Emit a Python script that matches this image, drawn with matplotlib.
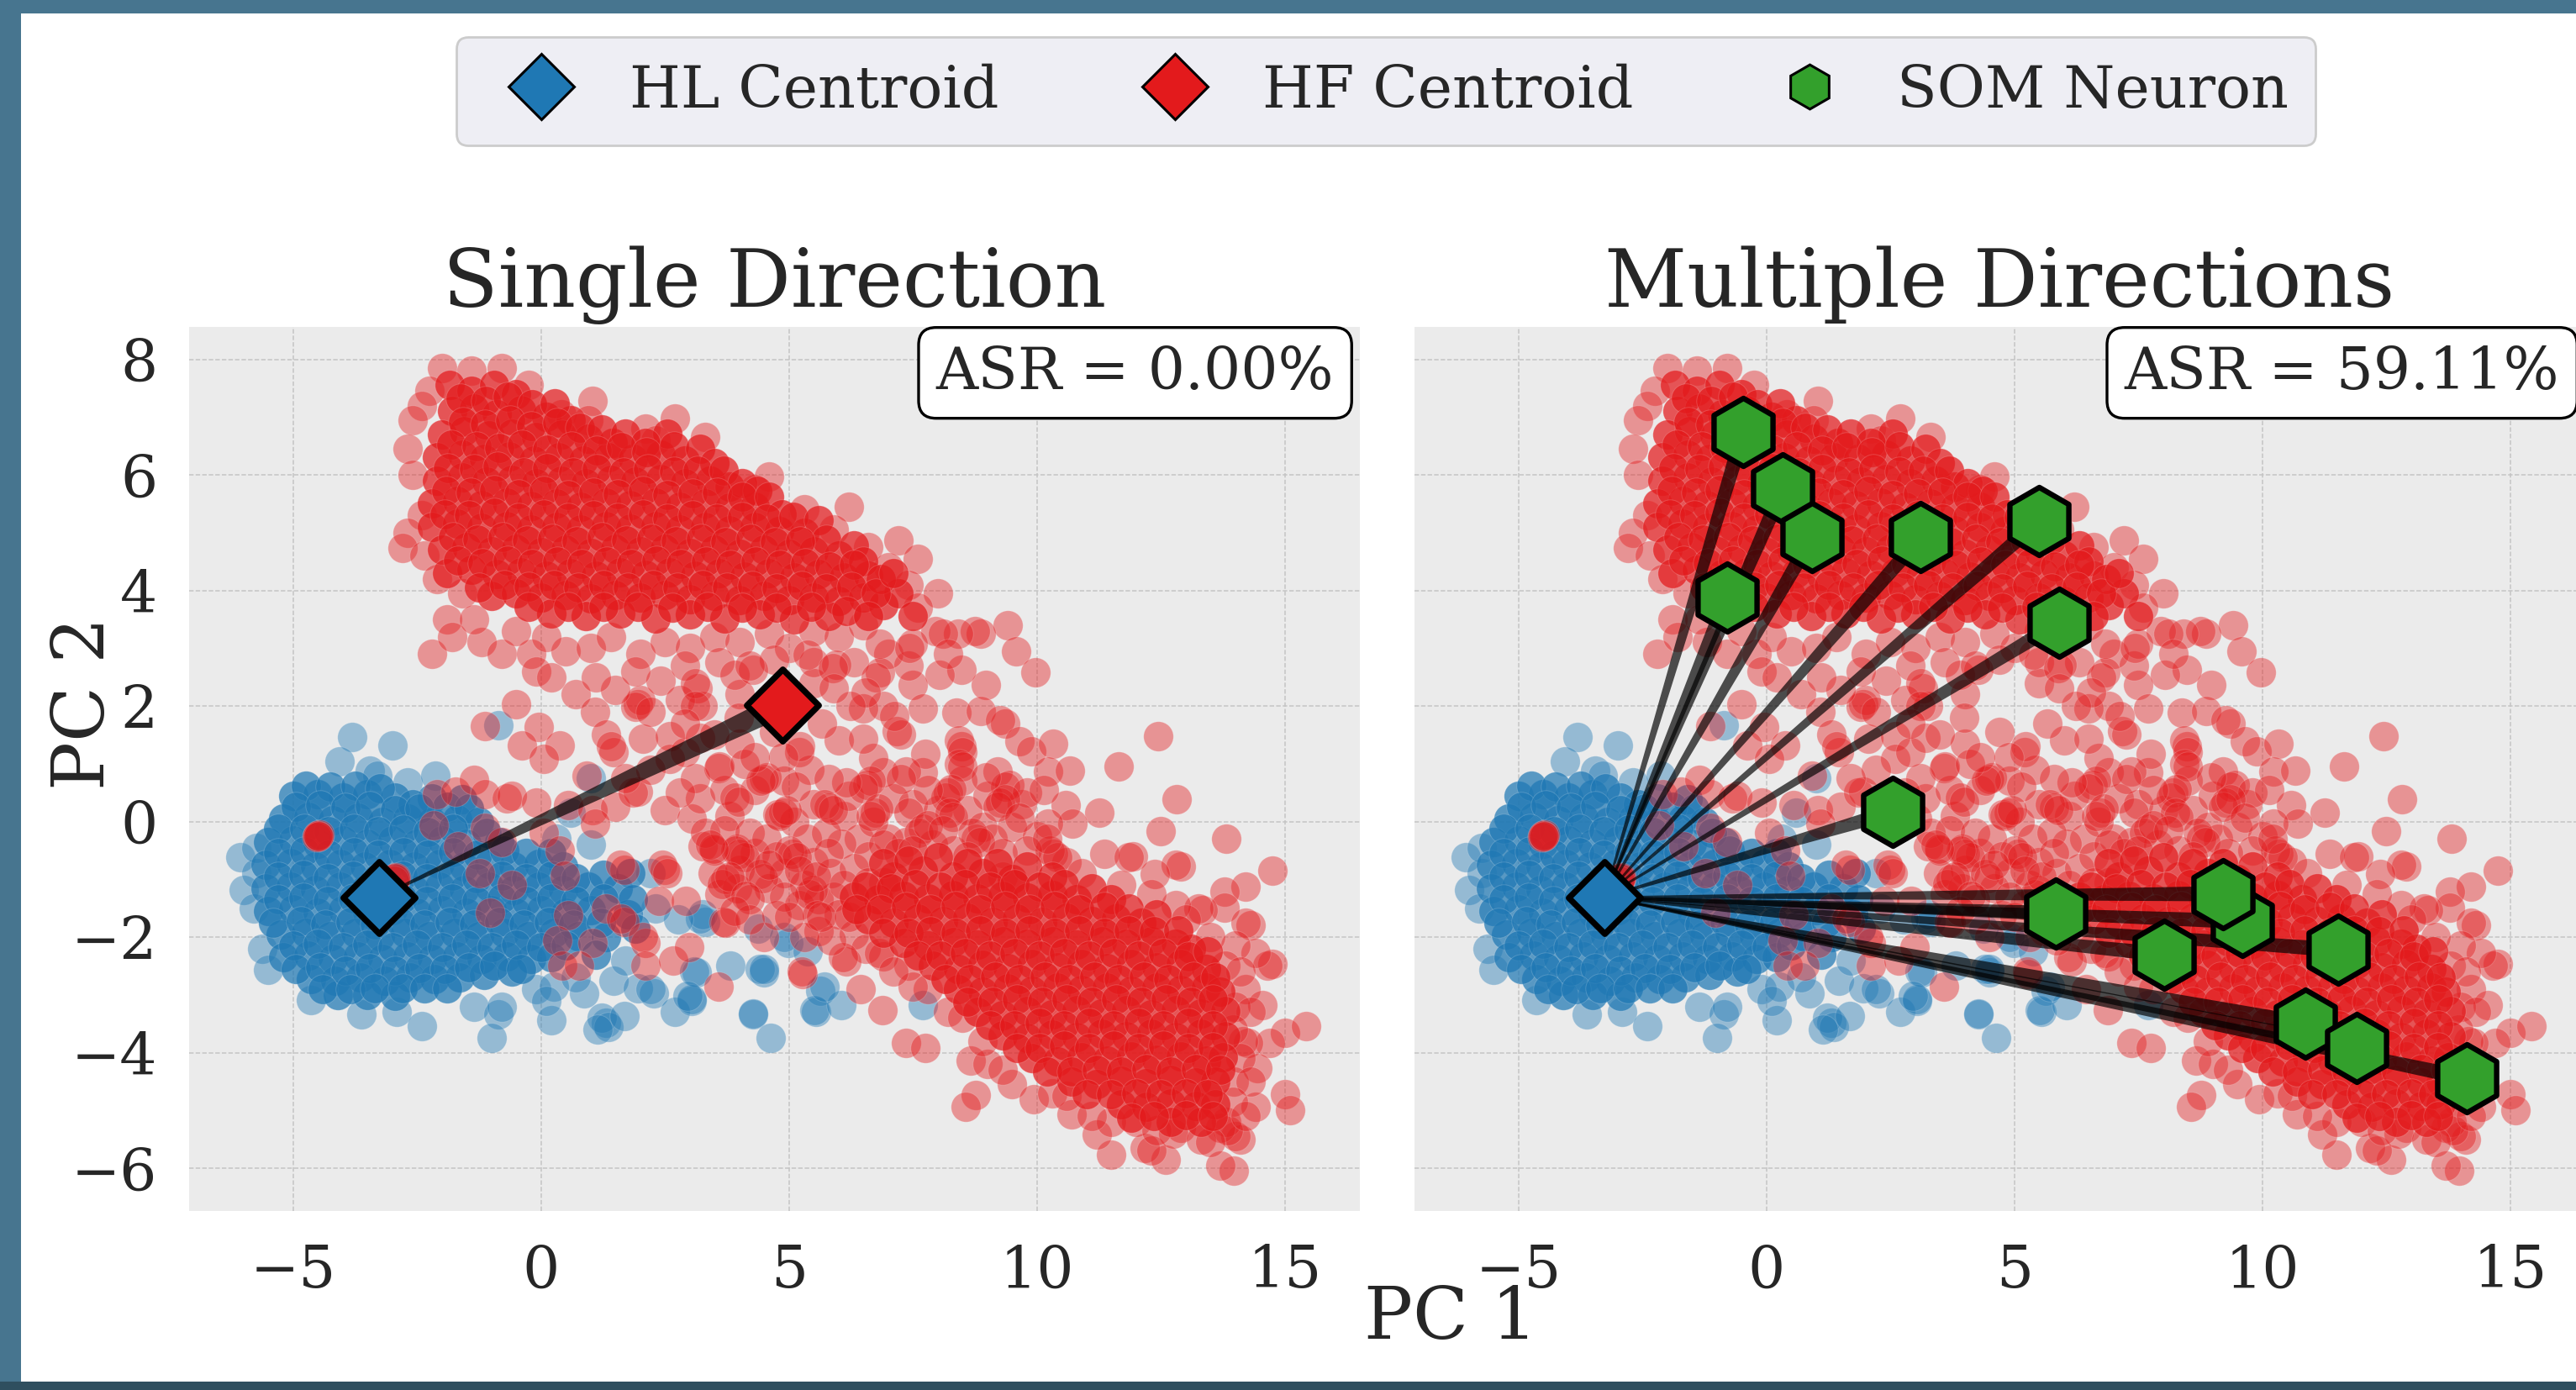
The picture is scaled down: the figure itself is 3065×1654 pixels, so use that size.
import matplotlib
matplotlib.use("Agg")
import matplotlib.pyplot as plt
import numpy as np
from matplotlib.lines import Line2D
from matplotlib.patches import Polygon, Rectangle
from matplotlib.transforms import IdentityTransform

W, H, DPI = 3065, 1654, 100
plt.rcParams['font.family'] = ['DejaVu Serif']

hl_centroid = (-3.27, -1.31)
hf_centroid = (4.86, 2.02)
som_x = [-0.47, 0.33, 0.92, 3.11, 5.5, 5.9, -0.8, 2.55, 5.83, 9.6, 9.2, 11.53, 8.02, 10.87, 11.9, 14.12]
som_y = [6.74, 5.77, 4.92, 4.92, 5.2, 3.44, 3.87, 0.17, -1.59, -1.73, -1.25, -2.22, -2.3, -3.5, -3.92, -4.44]

hf_core_upper = [
 (-1.85,7.55),(-1.4,7.45),(-0.95,7.55),(-0.5,7.4),
 (-1.8,7.1),(-1.35,7.15),(-0.9,7.05),(-0.4,7.12),(0.1,7.0),(0.6,6.95),
 (-2.0,6.7),(-1.55,6.75),(-1.05,6.68),(-0.6,6.72),(-0.1,6.65),(0.4,6.7),(0.95,6.62),(1.45,6.55),
 (-2.1,6.3),(-1.6,6.35),(-1.15,6.28),(-0.65,6.32),(-0.15,6.25),(0.35,6.3),(0.85,6.25),(1.35,6.3),(1.85,6.28),(2.4,6.35),(2.9,6.25),
 (-2.1,5.9),(-1.6,5.95),(-1.1,5.88),(-0.6,5.92),(-0.1,5.85),(0.4,5.9),(0.9,5.86),(1.4,5.92),(1.9,5.88),(2.4,5.93),(2.9,5.85),(3.4,5.9),(3.8,5.8),
 (-2.2,5.5),(-1.7,5.55),(-1.2,5.48),(-0.7,5.52),(-0.2,5.46),(0.3,5.5),(0.8,5.45),(1.3,5.52),(1.8,5.47),(2.3,5.52),(2.8,5.45),(3.3,5.5),(3.8,5.44),(4.3,5.45),
 (-2.2,5.1),(-1.7,5.15),(-1.2,5.08),(-0.7,5.12),(-0.2,5.06),(0.3,5.1),(0.8,5.05),(1.3,5.12),(1.8,5.07),(2.3,5.12),(2.8,5.05),(3.3,5.1),(3.8,5.04),(4.3,5.1),(4.8,5.02),(5.3,5.0),
 (-2.0,4.7),(-1.5,4.75),(-1.0,4.68),(-0.5,4.72),(0.0,4.66),(0.5,4.7),(1.0,4.65),(1.5,4.72),(2.0,4.67),(2.5,4.72),(3.0,4.65),(3.5,4.7),(4.0,4.64),(4.5,4.7),(5.0,4.63),(5.5,4.67),(6.0,4.6),
 (-1.9,4.3),(-1.4,4.35),(-0.9,4.28),(-0.4,4.32),(0.1,4.26),(0.6,4.3),(1.1,4.25),(1.6,4.32),(2.1,4.27),(2.6,4.32),(3.1,4.25),(3.6,4.3),(4.1,4.24),(4.6,4.3),(5.1,4.23),(5.6,4.28),(6.1,4.22),(6.6,4.25),
 (-1.0,3.9),(-0.5,3.95),(0.0,3.88),(0.5,3.92),(1.0,3.86),(1.5,3.92),(2.0,3.87),(2.5,3.92),(3.0,3.85),(3.5,3.9),(4.0,3.84),(4.5,3.9),(5.0,3.83),(5.5,3.88),(6.0,3.82),(6.5,3.88),
 (0.2,3.6),(0.9,3.55),(1.6,3.6),(2.3,3.52),(3.0,3.58),(3.7,3.52),(4.4,3.58),(5.1,3.5),(5.8,3.55),(6.9,3.75),(7.2,3.95),
]
hf_core_upper_fill = [
 (-1.62,7.33),(-1.12,7.28),(-0.68,7.36),(-0.18,7.22),(0.28,7.24),
 (-1.58,6.92),(-1.13,6.88),(-0.62,6.94),(-0.2,6.85),(0.32,6.9),(0.78,6.82),(1.22,6.78),(1.7,6.72),(2.55,6.72),(2.1,6.55),
 (-1.82,6.52),(-1.3,6.5),(-0.85,6.47),(-0.38,6.52),(0.12,6.44),(0.62,6.5),(1.12,6.42),(1.62,6.48),(2.12,6.4),(2.68,6.5),(3.2,6.45),(3.5,6.2),
 (-1.88,6.12),(-1.35,6.1),(-0.88,6.14),(-0.35,6.05),(0.12,6.12),(0.65,6.05),(1.12,6.1),(1.66,6.05),(2.15,6.1),(2.68,6.06),(3.15,6.08),(3.68,6.08),(4.05,5.85),(4.35,5.72),
 (-1.92,5.72),(-1.42,5.7),(-0.95,5.74),(-0.45,5.66),(0.05,5.72),(0.55,5.65),(1.05,5.7),(1.55,5.66),(2.05,5.72),(2.55,5.65),(3.05,5.68),(3.55,5.7),(4.05,5.62),(4.6,5.62),(4.85,5.32),
 (-1.95,5.32),(-1.45,5.3),(-0.95,5.34),(-0.45,5.26),(0.05,5.32),(0.55,5.26),(1.05,5.3),(1.55,5.26),(2.05,5.32),(2.55,5.25),(3.05,5.3),(3.55,5.25),(4.05,5.28),(4.55,5.25),(5.08,5.28),(5.6,5.22),(5.75,4.88),
 (-1.78,4.92),(-1.28,4.88),(-0.78,4.92),(-0.28,4.86),(0.22,4.9),(0.72,4.85),(1.22,4.92),(1.72,4.86),(2.22,4.9),(2.72,4.85),(3.22,4.9),(3.72,4.84),(4.22,4.9),(4.72,4.83),(5.22,4.85),(6.3,4.78),(6.5,4.5),
 (-1.68,4.52),(-1.18,4.48),(-0.68,4.52),(-0.18,4.46),(0.32,4.5),(0.82,4.46),(1.32,4.5),(1.82,4.46),(2.32,4.52),(2.82,4.46),(3.32,4.5),(3.82,4.44),(4.32,4.5),(4.82,4.44),(5.32,4.48),(5.82,4.42),(6.3,4.45),(6.85,4.2),
 (-1.25,4.05),(-0.75,4.1),(-0.25,4.06),(0.25,4.1),(0.75,4.05),(1.25,4.1),(1.75,4.05),(2.25,4.1),(2.75,4.05),(3.25,4.1),(3.75,4.05),(4.25,4.08),(4.75,4.04),(5.25,4.08),(5.75,4.04),(6.25,4.06),(6.75,3.95),(7.1,4.3),
 (-0.25,3.72),(0.55,3.72),(1.25,3.72),(1.95,3.72),(2.65,3.7),(3.35,3.72),(4.05,3.7),(4.75,3.7),(5.45,3.72),(6.15,3.65),(6.6,3.55),(7.5,3.55),
]
hf_core_lower = [
 (7.1,-0.95),(7.7,-0.85),(8.3,-0.95),(8.9,-0.9),(9.5,-1.0),
 (6.3,-1.3),(6.8,-1.35),(7.3,-1.28),(7.8,-1.33),(8.3,-1.27),(8.8,-1.33),(9.3,-1.28),(9.8,-1.32),(10.3,-1.27),(10.8,-1.35),
 (6.6,-1.7),(7.1,-1.75),(7.6,-1.68),(8.1,-1.72),(8.6,-1.67),(9.1,-1.73),(9.6,-1.68),(10.1,-1.73),(10.6,-1.67),(11.1,-1.72),(11.6,-1.68),(12.1,-1.75),
 (7.3,-2.1),(7.8,-2.15),(8.3,-2.08),(8.8,-2.13),(9.3,-2.07),(9.8,-2.12),(10.3,-2.07),(10.8,-2.13),(11.3,-2.07),(11.8,-2.12),(12.3,-2.07),(12.8,-2.12),(13.1,-2.2),
 (7.9,-2.5),(8.4,-2.55),(8.9,-2.48),(9.4,-2.53),(9.9,-2.47),(10.4,-2.52),(10.9,-2.47),(11.4,-2.53),(11.9,-2.47),(12.4,-2.52),(12.9,-2.47),(13.4,-2.55),
 (8.4,-2.9),(8.9,-2.95),(9.4,-2.88),(9.9,-2.93),(10.4,-2.87),(10.9,-2.92),(11.4,-2.87),(11.9,-2.93),(12.4,-2.87),(12.9,-2.92),(13.4,-2.87),(13.7,-2.95),
 (8.8,-3.3),(9.3,-3.35),(9.8,-3.28),(10.3,-3.33),(10.8,-3.27),(11.3,-3.32),(11.8,-3.27),(12.3,-3.33),(12.8,-3.27),(13.3,-3.32),(13.8,-3.28),
 (9.3,-3.7),(9.8,-3.75),(10.3,-3.68),(10.8,-3.73),(11.3,-3.67),(11.8,-3.72),(12.3,-3.67),(12.8,-3.73),(13.3,-3.67),(13.8,-3.72),
 (9.9,-4.1),(10.4,-4.15),(10.9,-4.08),(11.4,-4.13),(11.9,-4.07),(12.4,-4.12),(12.9,-4.07),(13.4,-4.13),(13.75,-4.08),
 (10.7,-4.5),(11.2,-4.55),(11.7,-4.48),(12.2,-4.53),(12.7,-4.47),(13.2,-4.52),(13.6,-4.5),
 (11.7,-4.9),(12.2,-4.93),(12.7,-4.88),(13.2,-4.92),(13.6,-4.9),(12.7,-5.2),(13.3,-5.2),
]
hf_core_lower_fill = [
 (6.9,-0.72),(7.4,-0.68),(8.0,-0.62),(8.6,-0.72),(9.2,-0.72),(9.8,-0.78),(10.3,-0.95),
 (6.55,-1.12),(7.05,-1.15),(7.55,-1.08),(8.05,-1.12),(8.55,-1.08),(9.05,-1.12),(9.55,-1.08),(10.05,-1.12),(10.55,-1.08),(11.1,-1.15),(11.5,-1.35),
 (6.35,-1.52),(6.85,-1.52),(7.35,-1.48),(7.85,-1.52),(8.35,-1.46),(8.85,-1.52),(9.35,-1.46),(9.85,-1.52),(10.35,-1.46),(10.85,-1.52),(11.35,-1.48),(11.85,-1.5),(12.4,-1.6),
 (6.9,-1.92),(7.4,-1.92),(7.85,-1.9),(8.35,-1.92),(8.85,-1.88),(9.35,-1.92),(9.85,-1.88),(10.35,-1.92),(10.85,-1.88),(11.35,-1.92),(11.85,-1.88),(12.35,-1.9),(12.85,-1.88),
 (7.6,-2.32),(8.05,-2.32),(8.55,-2.28),(9.05,-2.32),(9.55,-2.28),(10.05,-2.32),(10.55,-2.28),(11.05,-2.32),(11.55,-2.28),(12.05,-2.32),(12.55,-2.28),(13.05,-2.33),(13.45,-2.25),
 (8.15,-2.72),(8.65,-2.72),(9.15,-2.68),(9.65,-2.72),(10.15,-2.68),(10.65,-2.72),(11.15,-2.68),(11.65,-2.72),(12.15,-2.68),(12.65,-2.72),(13.15,-2.68),(13.6,-2.7),
 (8.6,-3.12),(9.1,-3.12),(9.6,-3.08),(10.1,-3.12),(10.6,-3.08),(11.1,-3.12),(11.6,-3.08),(12.1,-3.12),(12.6,-3.08),(13.1,-3.12),(13.55,-3.08),
 (9.05,-3.52),(9.55,-3.52),(10.05,-3.48),(10.55,-3.52),(11.05,-3.48),(11.55,-3.52),(12.05,-3.48),(12.55,-3.52),(13.05,-3.48),(13.55,-3.52),
 (9.6,-3.92),(10.05,-3.92),(10.55,-3.88),(11.05,-3.92),(11.55,-3.88),(12.05,-3.92),(12.55,-3.88),(13.05,-3.92),(13.55,-3.9),
 (10.2,-4.33),(10.7,-4.32),(11.2,-4.3),(11.7,-4.33),(12.2,-4.28),(12.7,-4.32),(13.2,-4.28),(13.7,-4.3),
 (11.0,-4.72),(11.5,-4.72),(12.0,-4.7),(12.5,-4.72),(13.0,-4.7),(13.45,-4.72),(11.9,-5.12),(12.35,-5.1),(13.0,-5.08),(13.55,-5.1),
]
hf_sparse = [
 (-2.0,7.85),(-1.4,7.8),(-0.8,7.85),(-2.25,7.45),(-0.25,7.55),(0.4,7.05),(1.03,7.28),(0.95,6.95),(2.1,6.8),(2.7,6.97),(3.3,6.65),(2.3,6.6),(4.6,5.97),(4.3,5.75),(5.3,5.4),(6.2,5.45),(5.9,5.05),
 (7.2,4.86),(6.6,4.75),(7.6,4.54),(7.0,4.4),(7.4,4.1),(8.0,3.95),(7.6,3.7),(-2.4,7.2),(-2.6,6.94),(-2.7,6.45),(-2.6,6.0),(-2.4,5.3),(-2.7,5.0),(-2.8,4.73),(-2.35,4.6),(-2.1,4.2),(-1.9,3.5),(-1.6,3.95),(-2.2,2.9),
 (-1.8,3.2),(-1.2,3.1),(-1.35,3.5),(-0.8,2.9),(-0.2,2.9),(-0.5,3.3),(0.5,2.95),(0.1,3.2),(1.0,3.0),(1.4,3.2),(2.0,2.9),(2.5,3.1),(3.0,3.0),(3.5,3.2),(4.0,3.1),(4.6,3.25),(5.0,3.0),(5.5,3.3),(6.0,3.2),(6.5,3.4),
 (9.4,3.4),(8.87,3.25),(8.75,3.3),(8.4,3.25),(7.95,3.3),(8.1,3.25),(9.57,2.94),(9.97,2.58),(8.97,2.36),(8.48,2.63),(8.04,2.54),(7.5,2.36),(8.38,1.88),(8.87,1.92),(9.35,1.7),(9.25,1.75),(9.65,1.39),(9.89,1.21),(10.33,1.35),(10.23,0.86),(10.67,0.88),(11.64,0.95),(12.44,1.48),
 (12.82,0.39),(12.5,-0.16),(13.82,-0.29),(14.75,-0.85),(11.25,0.15),(10.57,0.28),(10.71,-0.03),(11.35,-0.56),(11.93,-0.6),(11.85,-0.62),(12.9,-0.78),(12.8,-0.75),(12.37,-0.91),(14.2,-1.13),(13.78,-1.22),(13.78,-1.49),(13.34,-1.53),(13.25,-1.5),(12.8,-1.44),(14.3,-1.8),(14.2,-1.75),
 (14.75,-2.46),(14.65,-2.5),(14.4,-2.28),(14.0,-2.15),(13.8,-2.5),(14.2,-2.9),(14.55,-3.17),(14.0,-3.2),(15.0,-3.65),(15.43,-3.54),(14.7,-3.83),(14.26,-3.83),(14.15,-3.8),(14.45,-4.27),(13.97,-4.5),(15.0,-4.72),(15.1,-5.0),(14.4,-4.94),(14.1,-5.51),(14.0,-5.45),(13.97,-6.04),(13.7,-5.96),(12.6,-5.85),(12.17,-5.65),(12.3,-5.7),(11.5,-5.76),(11.2,-5.42),(13.82,-5.2),(13.7,-5.3),(13.85,-5.35),(12.9,-5.3),(12.75,-5.4),(13.3,-5.5),(12.0,-5.2),(11.5,-5.2),
 (8.77,-4.74),(8.56,-4.94),(7.36,-3.83),(7.75,-3.92),(6.88,-3.26),(3.57,-2.86),(5.27,-2.64),(6.44,-2.9),(8.67,-4.14),(9.0,-4.2),(9.5,-4.54),(9.94,-4.8),(10.7,-5.07),(10.3,-4.7),(8.2,-3.3),(7.8,-2.9),(7.4,-2.5),
 (-1.14,1.65),(-0.5,2.03),(-0.1,2.6),(0.7,2.2),(1.08,1.9),(1.95,2.03),(2.0,2.1),(1.9,1.98),(1.5,2.27),(2.4,2.43),(3.15,2.3),(3.25,2.0),(-0.05,1.63),(0.38,1.32),(-0.38,1.32),(0.05,1.08),(1.3,1.5),(1.46,1.2),(1.4,1.3),(0.92,0.8),(2.05,1.44),(2.6,1.48),(3.57,0.92),(4.55,0.76),(5.2,1.2),(2.6,1.08),
 (-2.1,0.48),(-1.73,0.52),(-1.35,0.72),(-1.14,0.48),(-0.7,0.4),(-0.6,0.45),(-0.1,0.33),(0.54,0.29),(1.03,0.2),(1.5,0.25),(1.95,0.52),(1.85,0.5),(2.5,0.2),(3.03,0.05),(-2.16,-0.07),(-1.68,-0.43),(-1.14,-0.11),(-0.8,-0.35),(0.05,-0.19),(0.38,-0.5),(1.08,-0.03),(2.5,-0.83),(2.45,-0.75),(2.55,-0.9),
 (-1.24,-0.89),(-0.6,-1.1),(-1.03,-1.58),(0.47,-0.94),(1.68,-0.83),(1.6,-0.75),(0.54,-1.62),(1.3,-1.5),(1.68,-1.74),(1.62,-1.68),(0.32,-2.06),(1.03,-2.1),(0.43,-2.49),(0.76,-2.49),(2.11,-2.1),(2.05,-2.0),(2.11,-2.49),(2.66,-2.41),(2.98,-2.17),(2.38,-1.38),(2.92,-1.38),(3.68,-1.74),(4.5,-2.0),(5.25,-2.6),
 (3.25,-0.43),(3.5,-0.5),(3.95,-0.47),(4.3,-0.55),(3.46,-0.9),(4.0,-0.83),(3.2,0.4),(3.8,0.1),(4.76,0.13),(4.9,-0.9),(5.3,-1.1),(5.5,-0.7),(5.1,0.0),(5.5,0.3),(6.1,0.1),(6.4,-0.3),(6.05,-0.38),(5.85,-0.9),
 (3.3,-0.2),(3.7,-0.15),(4.2,-0.2),(4.55,-0.3),(3.6,-1.25),(3.95,-1.15),(4.6,-1.15),(5.2,-1.45),(5.6,-1.35),(5.9,-1.3),(6.0,-1.6),(6.3,-1.95),(5.6,-1.9),(6.55,-2.2),(4.75,-0.6),(5.35,-0.3),(5.75,-0.2),(6.3,-0.8),(6.6,-0.6),(7.0,-0.3),(7.35,-0.35),(7.9,-0.4),(8.3,-0.5),(6.7,0.0),(6.2,0.45),(7.1,0.4),(7.5,0.3),(8.0,0.2),(8.6,0.2),(8.9,-0.1),(9.1,-0.3),(9.5,-0.1),(10.0,-0.25),(10.6,-0.7),(9.7,0.3),(9.0,0.45),(8.5,0.7),(7.7,0.85),(6.9,0.85),(5.4,0.9),(4.9,0.7),(4.3,0.55),(3.7,0.55),(3.1,0.75),(2.8,0.5),(2.2,0.9),(1.7,0.75),(2.9,1.2),(3.2,1.45),(4.0,1.35),(4.7,1.55),(6.0,1.4),(6.7,1.1),(2.2,1.9),(2.8,2.1),(4.0,2.2),(5.5,2.4),(6.9,2.0),(7.7,1.95),(7.4,2.7),(8.2,2.9),(7.0,2.9),(6.3,2.75),(5.5,2.75),(4.7,2.8),(3.6,2.75),(2.9,2.7),(1.9,2.6),(1.1,2.5),(0.2,2.5),
 (7.75,1.17),(7.36,0.86),(6.49,1.43),(7.17,1.57),(7.25,1.5),(7.12,1.83),(6.49,1.96),(5.66,1.7),(5.22,1.3),(8.48,1.3),(8.42,1.4),(8.5,1.2),(8.43,1.0),(8.5,0.95),(9.2,0.86),(9.45,0.64),(9.35,0.6),(8.97,0.77),(9.8,0.5),(10.13,0.55),(8.2,0.5),(8.15,0.42),(8.28,0.56),(7.8,0.55),(7.26,0.73),(6.58,0.64),(6.65,0.7),(6.5,0.58),(6.15,0.68),(5.8,0.73),(5.8,0.24),(5.72,0.3),(5.88,0.2),(6.73,0.15),(6.8,0.22),(6.65,0.1),(5.13,0.6),(4.5,0.73),(4.42,0.7),(3.6,0.95),(4.1,1.0),
 (9.26,0.33),(9.2,0.25),(9.35,0.38),(8.24,0.15),(8.3,0.08),(7.41,0.15),(7.7,-0.12),(7.62,-0.2),(7.8,-0.06),(8.77,-0.29),(8.7,-0.2),(8.85,-0.35),(9.65,0.06),(10.23,-0.03),(10.33,-0.56),(10.25,-0.5),(10.4,-0.62),(9.8,-0.5),(9.3,-0.55),(6.9,-0.4),(7.2,-0.55),
 (4.88,0.15),(4.8,0.1),(4.95,0.2),(3.9,0.42),(3.98,0.35),(4.0,-0.56),(4.1,-0.62),(3.92,-0.5),(3.47,-0.47),(3.4,-0.4),(4.4,-0.91),(4.48,-0.98),(5.07,-0.56),(5.0,-0.5),(5.15,-0.62),(3.72,-1.0),(3.65,-1.08),(3.8,-0.95),(5.47,-1.18),(5.4,-1.25),(4.2,-1.35),(4.12,-1.28),(4.74,-1.62),(5.56,-1.62),(6.15,-2.42),(6.08,-2.35),(6.9,-2.33),(6.82,-2.28),(3.72,-1.75),(5.85,-2.06),(5.3,-2.0),(4.9,-1.3),
 (3.1,2.4),(3.9,2.54),(4.27,2.63),(4.2,2.7),(5.37,2.89),(5.95,2.72),(5.88,2.65),(6.83,2.58),(6.75,2.5),(6.54,2.23),(7.5,3.07),(7.42,3.0),(6.83,3.07),(6.24,2.0),(3.1,2.0),(3.98,1.79),(4.88,1.12),(4.3,1.12),(2.9,1.7),(3.5,1.5),(5.9,2.3),
 (14.1,-2.6),(14.3,-3.3),(13.95,-3.6),(14.1,-4.1),(14.3,-4.5),(13.95,-4.85),(14.2,-5.1),(13.5,-5.55),(12.4,-5.35),(11.1,-5.1),(10.6,-4.75),(9.3,-4.3),(8.9,-3.8),(8.5,-3.4),(7.5,-2.85),(7.1,-2.6),
 (6.9,-1.05),(7.5,-0.5),(8.1,-0.15),(8.6,-0.6),(9.3,-0.95),(10.2,-0.3),(10.9,-0.9),(11.7,-1.1),(12.3,-1.25),(13.0,-1.7),(13.5,-2.0),
 (4.2,-1.7),(4.6,-0.75),(5.2,-0.85),(5.55,-0.95),(6.1,-1.1),(5.65,-1.65),(6.2,-1.65),(3.9,-1.55),(5.0,-1.65),(5.8,-0.55),(6.6,-1.05),
]
hl_core = [
 (-5.0,0.45),(-4.5,0.48),(-4.0,0.42),(-3.5,0.47),(-2.95,0.42),(-2.2,0.4),(-1.6,0.38),
 (-5.2,0.05),(-4.7,0.08),(-4.2,0.02),(-3.7,0.06),(-3.2,0.0),(-2.7,0.05),(-2.2,0.0),(-1.7,0.04),(-1.25,0.0),
 (-5.5,-0.35),(-5.0,-0.32),(-4.5,-0.38),(-4.0,-0.33),(-3.5,-0.38),(-3.0,-0.33),(-2.5,-0.38),(-2.0,-0.33),(-1.5,-0.38),(-0.85,-0.35),
 (-5.55,-0.75),(-5.05,-0.72),(-4.55,-0.78),(-4.05,-0.73),(-3.55,-0.78),(-3.05,-0.73),(-2.55,-0.78),(-2.05,-0.73),(-1.55,-0.78),(-1.05,-0.73),(-0.55,-0.78),(-0.05,-0.73),(0.45,-0.78),
 (-5.55,-1.15),(-5.05,-1.12),(-4.55,-1.18),(-4.05,-1.13),(-3.55,-1.18),(-3.05,-1.13),(-2.55,-1.18),(-2.05,-1.13),(-1.55,-1.18),(-1.05,-1.13),(-0.55,-1.18),(-0.05,-1.13),(0.45,-1.18),(0.95,-1.13),(1.55,-1.15),
 (-5.5,-1.55),(-5.0,-1.52),(-4.5,-1.58),(-4.0,-1.53),(-3.5,-1.58),(-3.0,-1.53),(-2.5,-1.58),(-2.0,-1.53),(-1.5,-1.58),(-1.0,-1.53),(-0.5,-1.58),(0.0,-1.53),(0.5,-1.58),(1.0,-1.53),(1.75,-1.6),
 (-5.25,-1.95),(-4.75,-1.92),(-4.25,-1.98),(-3.75,-1.93),(-3.25,-1.98),(-2.75,-1.93),(-2.25,-1.98),(-1.75,-1.93),(-1.25,-1.98),(-0.75,-1.93),(-0.25,-1.98),(0.25,-1.93),(0.75,-1.98),(1.3,-2.0),
 (-5.2,-2.35),(-4.7,-2.32),(-4.2,-2.38),(-3.7,-2.33),(-3.2,-2.38),(-2.7,-2.33),(-2.2,-2.38),(-1.7,-2.33),(-1.2,-2.38),(-0.7,-2.33),(-0.2,-2.38),(0.2,-2.35),
 (-4.65,-2.72),(-4.15,-2.75),(-3.65,-2.7),(-3.15,-2.75),(-2.65,-2.7),(-2.15,-2.72),(-1.65,-2.7),(-1.15,-2.65),(-0.6,-2.6),
 (-4.1,-3.0),(-3.5,-3.0),(-2.95,-3.02),
]
hl_core_fill = [
 (-4.75,0.62),(-4.25,0.6),(-3.75,0.62),(-3.25,0.58),(-2.6,0.3),(-1.9,0.25),
 (-4.95,0.26),(-4.45,0.28),(-3.95,0.24),(-3.45,0.27),(-2.95,0.2),(-2.45,0.22),(-1.45,0.22),
 (-5.3,-0.12),(-4.78,-0.12),(-4.28,-0.16),(-3.78,-0.12),(-3.28,-0.17),(-2.78,-0.13),(-2.28,-0.18),(-1.78,-0.12),(-1.1,-0.2),
 (-5.3,-0.55),(-4.78,-0.52),(-4.28,-0.58),(-3.78,-0.53),(-3.28,-0.57),(-2.78,-0.53),(-2.28,-0.58),(-1.78,-0.53),(-1.28,-0.58),(-0.75,-0.5),(-0.3,-0.55),(0.2,-0.55),
 (-5.3,-0.95),(-4.8,-0.92),(-4.3,-0.98),(-3.8,-0.93),(-3.3,-0.98),(-2.8,-0.93),(-2.3,-0.98),(-1.8,-0.93),(-1.3,-0.98),(-0.8,-0.93),(-0.3,-0.98),(0.2,-0.93),(0.7,-0.98),(1.25,-0.92),(1.8,-0.9),
 (-5.3,-1.35),(-4.8,-1.32),(-4.3,-1.38),(-3.8,-1.33),(-3.3,-1.38),(-2.8,-1.33),(-2.3,-1.38),(-1.8,-1.33),(-1.3,-1.38),(-0.8,-1.33),(-0.3,-1.38),(0.2,-1.33),(0.7,-1.38),(1.25,-1.33),(1.85,-1.35),
 (-5.4,-1.75),(-4.85,-1.72),(-4.35,-1.78),(-3.85,-1.73),(-3.35,-1.78),(-2.85,-1.73),(-2.35,-1.78),(-1.85,-1.73),(-1.35,-1.78),(-0.85,-1.73),(-0.35,-1.78),(0.15,-1.73),(0.65,-1.78),(1.2,-1.75),(1.9,-1.85),
 (-5.0,-2.15),(-4.5,-2.12),(-4.0,-2.18),(-3.5,-2.13),(-3.0,-2.18),(-2.5,-2.13),(-2.0,-2.18),(-1.5,-2.13),(-1.0,-2.18),(-0.5,-2.13),(0.0,-2.18),(0.5,-2.15),(1.1,-2.3),
 (-4.95,-2.55),(-4.45,-2.52),(-3.95,-2.58),(-3.45,-2.53),(-2.95,-2.58),(-2.45,-2.53),(-1.95,-2.55),(-1.45,-2.52),(-0.95,-2.5),(-0.4,-2.55),
 (-4.4,-2.9),(-3.85,-2.9),(-3.35,-2.88),(-2.8,-2.88),(-2.35,-2.88),(-1.9,-2.88),
]
hl_sparse = [
 (-3.81,1.46),(-3.0,1.32),(-4.06,1.04),(-3.46,0.88),(-3.3,0.8),(-2.7,0.68),(-2.14,0.8),(-0.87,1.67),(-6.06,-0.61),(-6.0,-1.18),(-5.8,-1.5),(-5.63,-2.2),(-5.5,-2.57),(-4.65,-3.09),(-3.63,-3.33),(-2.92,-3.29),(-2.4,-3.54),(-1.35,-3.2),(-0.87,-3.33),(-0.8,-3.2),(-1.0,-3.75),(0.2,-3.44),(-0.1,-2.9),(0.25,-2.85),(0.87,-2.97),(1.46,-2.75),(1.3,-3.48),(1.22,-3.4),(1.35,-3.55),(1.14,-3.6),(1.68,-3.37),(1.95,-2.89),(2.27,-2.97),(2.2,-2.9),(2.7,-3.29),(3.03,-3.11),(3.14,-2.61),(3.82,-2.49),(4.5,-2.61),(4.4,-2.55),(4.27,-3.33),(4.63,-3.75),(5.54,-3.3),(5.63,-2.93),(3.3,-1.74),(3.2,-1.68),(3.25,-1.6),(4.38,-1.86),(4.98,-2.1),(4.9,-2.0),(2.76,-1.7),(3.09,-2.59),(3.03,-3.08),(2.95,-3.02),(4.28,-3.32),(5.51,-3.27),(6.05,-3.17),(5.71,-2.86),(4.49,-2.55),(7.7,-3.17),(5.37,-2.24),(2.3,-1.5),(2.2,-0.9),(1.0,-0.4),(0.3,-0.3),(0.6,0.15),(1.0,0.75),(0.7,-2.7),(0.1,-3.1),(1.7,-2.4),(-5.75,-0.9),(-5.75,-0.45),
]
hf_stray = [(-4.5,-0.25),(-4.48,-0.22),(-4.52,-0.27),(-4.5,-0.24),(-4.49,-0.26),(-2.95,-1.0),(-2.93,-0.97),(-2.97,-1.02),(-2.95,-0.98)]

RED, BLUE, GREEN = '#e31a1c', '#1f78b4', '#33a02c'
S = 650

fig = plt.figure(figsize=(W/DPI, H/DPI), dpi=DPI, facecolor='white')
def px_rect(x0, y0, x1, y1, c):
    fig.add_artist(Rectangle((x0/W, 1-y1/H), (x1-x0)/W, (y1-y0)/H, transform=fig.transFigure, facecolor=c, edgecolor='none', zorder=-5))
px_rect(0, 0, W, 16, '#47758f')
px_rect(0, 0, 25, H, '#47758f')
px_rect(0, 1644, W, H, '#2f4f5f')

def make_axes(left):
    ax = fig.add_axes([left/W, 1-1441/H, 1393/W, 1052/H], facecolor='#ebebeb')
    ax.set_xlim(-7.1, 16.51)
    ax.set_ylim(-6.74, 8.56)
    ax.set_xticks([-5, 0, 5, 10, 15])
    ax.set_yticks([-6, -4, -2, 0, 2, 4, 6, 8])
    ax.grid(True, color='#c4c4c4', ls=(0, (3.5, 1.6)), lw=1.1)
    ax.set_axisbelow(True)
    for s in ax.spines.values():
        s.set_visible(False)
    ax.tick_params(axis='x', length=0, labelsize=50, pad=28, labelcolor='#262626')
    ax.tick_params(axis='y', length=0, labelsize=50, pad=27, labelcolor='#262626')
    return ax

def cloud(ax, pts, color, a, z):
    arr = np.array(pts)
    r, g, b = matplotlib.colors.to_rgb(color)
    ax.scatter(arr[:, 0], arr[:, 1], s=S, facecolor=(r, g, b, a), edgecolor=(1, 1, 1, 0.18), linewidths=0.7, zorder=z)

def wedge(ax, a, b, w0=1.0, w1=9):
    p, q = ax.transData.transform([a, b])
    d = (q-p)/np.hypot(*(q-p))
    n = np.array([-d[1], d[0]])
    ax.add_patch(Polygon([p+n*w0, q+n*w1, q-n*w1, p-n*w0], closed=True, transform=IdentityTransform(), facecolor=(0, 0, 0, 0.68), edgecolor='none', zorder=5))

def base(ax):
    cloud(ax, hl_sparse, BLUE, 0.42, 1)
    cloud(ax, hl_core, BLUE, 0.72, 1.5)
    cloud(ax, hl_core_fill, BLUE, 0.72, 1.5)
    cloud(ax, hf_sparse, RED, 0.42, 3)
    cloud(ax, hf_stray, RED, 0.42, 3)
    cloud(ax, hf_core_upper, RED, 0.72, 3.5)
    cloud(ax, hf_core_upper_fill, RED, 0.72, 3.5)
    cloud(ax, hf_core_lower, RED, 0.72, 3.5)
    cloud(ax, hf_core_lower_fill, RED, 0.72, 3.5)

def label_asr(ax, txt):
    ax.annotate(txt, xy=(1, 0.948), xycoords='axes fraction', xytext=(-22, 0), textcoords='offset points', ha='right', va='center', fontsize=50, color='#262626', zorder=10, annotation_clip=False,
                bbox=dict(boxstyle='round,pad=0.3,rounding_size=0.3', facecolor='white', edgecolor='black', linewidth=2.4))

ax1 = make_axes(225)
base(ax1)
wedge(ax1, hl_centroid, hf_centroid, w1=14)
ax1.scatter(*hl_centroid, marker='D', s=1900, color=BLUE, edgecolor='black', linewidths=5.2, zorder=8)
ax1.scatter(*hf_centroid, marker='D', s=1900, color=RED, edgecolor='black', linewidths=5.2, zorder=8)
ax1.set_title('Single Direction', fontsize=69, color='#262626', pad=17)
label_asr(ax1, 'ASR = 0.00%')

ax2 = make_axes(1683)
ax2.tick_params(labelleft=False)
base(ax2)
for xs, ys in zip(som_x, som_y):
    wedge(ax2, hl_centroid, (xs, ys))
ax2.scatter(*hl_centroid, marker='D', s=1900, color=BLUE, edgecolor='black', linewidths=5.2, zorder=8)
ax2.scatter(som_x, som_y, marker='h', s=3400, color=GREEN, edgecolor='black', linewidths=4.6, zorder=9)
ax2.set_title('Multiple Directions', fontsize=69, color='#262626', pad=17)
label_asr(ax2, 'ASR = 59.11%')

fig.text(100/W, 1-837/H, 'PC 2', rotation=90, ha='center', va='center', fontsize=62, color='#262626')
fig.text(1726/W, 1-1569/H, 'PC 1', ha='center', va='center', fontsize=62, color='#262626')

handles = [
    Line2D([], [], ls='none', marker='D', ms=40, mfc=BLUE, mec='black', mew=2.2, label='HL Centroid'),
    Line2D([], [], ls='none', marker='D', ms=40, mfc=RED, mec='black', mew=2.2, label='HF Centroid'),
    Line2D([], [], ls='none', marker='h', ms=38, mfc=GREEN, mec='black', mew=2.2, label='SOM Neuron'),
]
leg = fig.legend(handles=handles, loc='center', bbox_to_anchor=(1649/W, 1-108.5/H), ncols=3, fontsize=50.2,
                 facecolor='#eeeef4', edgecolor='#cccccc', framealpha=1, fancybox=True, handletextpad=0.5,
                 columnspacing=2.0, borderpad=0.45, handlelength=2.0, borderaxespad=0)
leg.get_frame().set_linewidth(2)
for t in leg.get_texts():
    t.set_color('#262626')

fig.savefig('out.png', dpi=DPI)
